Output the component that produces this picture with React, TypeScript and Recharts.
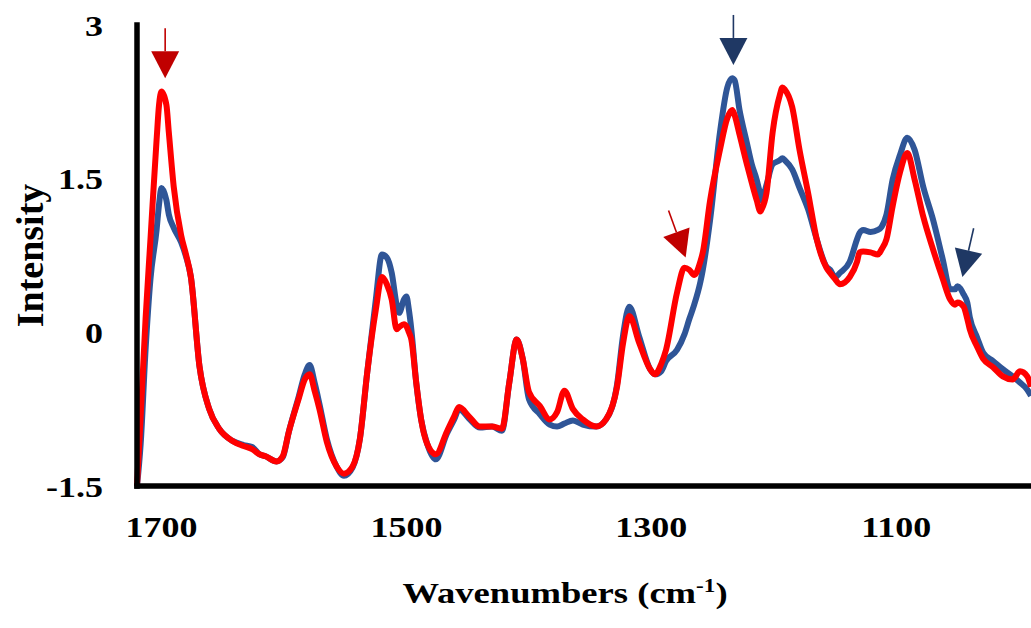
import { LineChart, Line, XAxis, YAxis, ReferenceDot } from 'recharts';

// wavenumbers (cm-1) from left to right
const wavenumbers = [
  1720, 1717, 1713, 1709, 1704, 1702, 1700, 1696, 1694, 1690, 1684, 1680, 1676, 1669, 1661, 1653,
  1642, 1633, 1626, 1620, 1615, 1606, 1601, 1596, 1588, 1583, 1579, 1575, 1571, 1565, 1557, 1551,
  1544, 1538, 1532, 1525, 1520, 1516, 1512, 1508, 1506, 1502, 1500, 1498, 1496, 1492, 1488, 1483,
  1476, 1467, 1461, 1457, 1449, 1440, 1430, 1422, 1416, 1410, 1405, 1400, 1391, 1383, 1377, 1371,
  1364, 1356, 1345, 1337, 1328, 1323, 1318, 1310, 1301, 1297, 1292, 1288, 1279, 1273, 1269, 1265,
  1260, 1258, 1252, 1244, 1238, 1234, 1232, 1228, 1222, 1218, 1214, 1211, 1210, 1206, 1201, 1195,
  1193, 1191, 1185, 1179, 1172, 1165, 1157, 1154, 1150, 1146, 1138, 1132, 1130, 1127, 1121, 1115,
  1112, 1108, 1103, 1097, 1091, 1085, 1078, 1070, 1062, 1056, 1052, 1050, 1045, 1042, 1040, 1034,
  1029, 1021, 1013, 1005, 999, 993, 990,
];

const redSeries = [
  -1.5, -0.82, 0.13, 0.91, 1.88, 2.22, 2.35, 2.22, 1.95, 1.42, 0.95, 0.76, 0.54, -0.33, -0.75, -0.94,
  -1.06, -1.11, -1.14, -1.19, -1.21, -1.26, -1.21, -0.97, -0.65, -0.46, -0.41, -0.57, -0.75, -1.07, -1.31, -1.38,
  -1.31, -1.04, -0.39, 0.22, 0.54, 0.47, 0.32, 0.03, 0.05, 0.08, 0.06, 0.0, -0.07, -0.49, -0.85, -1.09,
  -1.19, -0.97, -0.82, -0.73, -0.82, -0.92, -0.92, -0.94, -0.49, -0.07, -0.26, -0.58, -0.72, -0.85, -0.78, -0.57,
  -0.75, -0.85, -0.92, -0.85, -0.53, -0.1, 0.16, -0.1, -0.36, -0.41, -0.31, -0.17, 0.39, 0.63, 0.61, 0.56,
  0.69, 0.78, 1.29, 1.78, 2.09, 2.17, 2.12, 1.93, 1.64, 1.46, 1.29, 1.18, 1.2, 1.36, 1.95, 2.32,
  2.39, 2.37, 2.2, 1.78, 1.36, 0.91, 0.63, 0.58, 0.52, 0.47, 0.54, 0.69, 0.78, 0.79, 0.78, 0.76,
  0.81, 0.91, 1.23, 1.56, 1.75, 1.49, 1.13, 0.81, 0.52, 0.32, 0.27, 0.29, 0.25, 0.13, 0.03, -0.14,
  -0.26, -0.34, -0.43, -0.46, -0.38, -0.43, -0.53,
];

const blueSeries = [
  -1.5, -1.09, -0.17, 0.52, 1.0, 1.25, 1.41, 1.29, 1.15, 1.02, 0.88, 0.74, 0.54, -0.33, -0.75, -0.94,
  -1.06, -1.1, -1.12, -1.19, -1.21, -1.26, -1.22, -0.97, -0.63, -0.41, -0.32, -0.49, -0.7, -1.04, -1.31, -1.4,
  -1.32, -1.04, -0.39, 0.32, 0.76, 0.73, 0.58, 0.27, 0.19, 0.32, 0.35, 0.22, 0.03, -0.49, -0.85, -1.09,
  -1.24, -0.99, -0.85, -0.75, -0.84, -0.93, -0.92, -0.96, -0.49, -0.07, -0.26, -0.65, -0.8, -0.9, -0.92, -0.89,
  -0.86, -0.9, -0.92, -0.85, -0.51, -0.02, 0.25, -0.04, -0.36, -0.41, -0.38, -0.28, -0.17, -0.02, 0.13, 0.27,
  0.49, 0.61, 1.1, 1.95, 2.39, 2.48, 2.46, 2.17, 1.85, 1.64, 1.49, 1.34, 1.29, 1.44, 1.64, 1.68,
  1.7, 1.68, 1.59, 1.41, 1.2, 0.91, 0.64, 0.61, 0.54, 0.58, 0.69, 0.91, 0.97, 1.0, 0.98, 1.0,
  1.03, 1.15, 1.49, 1.73, 1.9, 1.78, 1.42, 1.1, 0.71, 0.42, 0.42, 0.45, 0.37, 0.29, 0.15, -0.05,
  -0.2, -0.28, -0.36, -0.43, -0.49, -0.56, -0.62,
];

const xTicks = [1700, 1500, 1300, 1100];
const yTicks = [-1.5, 0, 1.5, 3];

// arrow tips, in data units
const arrowWn = [1697, 1233, 1272, 1046];
const arrowVal = [2.48, 2.61, 0.73, 0.54];
const arrowLook = [
  { color: '#C00000', angle: 0 },
  { color: '#1F3864', angle: 0 },
  { color: '#C00000', angle: -20 },
  { color: '#1F3864', angle: 13 },
];

const data = wavenumbers.map((wn, i) => ({ wn, red: redSeries[i], blue: blueSeries[i] }));

const FONT = "'Liberation Serif', 'Times New Roman', serif";

function XTick({ x, y, payload }: any) {
  return (
    <g transform={`translate(${x},${y}) scale(1.2,1)`}>
      <text x={0} y={0} dy="0.71em" textAnchor="middle" fontFamily={FONT} fontSize={30} fontWeight="bold" fill="#000">
        {payload.value}
      </text>
    </g>
  );
}

function YTick({ x, y, payload }: any) {
  return (
    <g transform={`translate(${x},${y}) scale(1.2,1)`}>
      <text x={0} y={0} dy="0.35em" textAnchor="end" fontFamily={FONT} fontSize={30} fontWeight="bold" fill="#000">
        {String(payload.value)}
      </text>
    </g>
  );
}

function XTitle({ viewBox }: any) {
  const cx = viewBox.x + viewBox.width / 2 - 19;
  const by = viewBox.y + 117;
  return (
    <g transform={`translate(${cx},${by}) scale(1.22,1)`}>
      <text x={0} y={0} textAnchor="middle" fontFamily={FONT} fontSize={30} fontWeight="bold" fill="#000">
        Wavenumbers (cm
        <tspan dy={-11} fontSize={19}>-1</tspan>
        <tspan dy={11} fontSize={30}>)</tspan>
      </text>
    </g>
  );
}

function YTitle({ viewBox }: any) {
  const cy = viewBox.y + viewBox.height / 2;
  return (
    <text
      x={0}
      y={0}
      transform={`translate(30,${cy}) rotate(-90)`}
      textAnchor="middle"
      dominantBaseline="central"
      fontFamily={FONT}
      fontSize={38}
      fontWeight="bold"
      fill="#000"
    >
      Intensity
    </text>
  );
}

function Arrow({ cx, cy, color, angle }: any) {
  return (
    <g transform={`translate(${cx},${cy}) rotate(${angle})`}>
      <line x1={0} y1={-27} x2={0} y2={-50} stroke={color} strokeWidth={1.6} />
      <polygon points="0,0 -14,-27 14,-27" fill={color} />
    </g>
  );
}

export default function App() {
  return (
    <div style={{ position: 'absolute', left: 0, top: 0, width: 1031, height: 628, background: '#fff' }}>
      <LineChart width={1031} height={628} data={data} margin={{ top: 25, right: 0, bottom: 0, left: 0 }}>
        <XAxis
          dataKey="wn"
          type="number"
          domain={[990, 1720]}
          reversed
          ticks={xTicks}
          tickLine={false}
          tickSize={0}
          tickMargin={30}
          height={142}
          axisLine={{ stroke: '#000', strokeWidth: 5.5, strokeLinecap: 'square' }}
          tick={<XTick />}
          label={<XTitle />}
        />
        <YAxis
          type="number"
          domain={[-1.5, 3]}
          ticks={yTicks}
          tickLine={false}
          tickSize={0}
          tickMargin={34}
          width={137}
          axisLine={{ stroke: '#000', strokeWidth: 5.5, strokeLinecap: 'square' }}
          tick={<YTick />}
          label={<YTitle />}
        />
        <Line
          type="monotone"
          dataKey="blue"
          stroke="#2F5597"
          strokeWidth={6}
          dot={false}
          activeDot={false}
          isAnimationActive={false}
        />
        <Line
          type="monotone"
          dataKey="red"
          stroke="#FF0000"
          strokeWidth={6}
          dot={false}
          activeDot={false}
          isAnimationActive={false}
        />
        {arrowWn.map((wn, i) => (
          <ReferenceDot
            key={`arrow-${i}`}
            x={wn}
            y={arrowVal[i]}
            r={0}
            shape={(p: any) => <Arrow cx={p.cx} cy={p.cy} color={arrowLook[i].color} angle={arrowLook[i].angle} />}
          />
        ))}
      </LineChart>
    </div>
  );
}
